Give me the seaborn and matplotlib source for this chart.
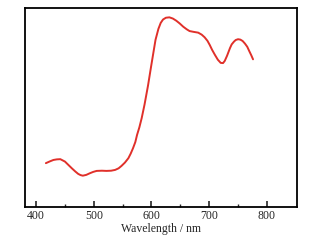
import numpy as np
import pandas as pd
from matplotlib import pyplot as plt
import seaborn as sns

# values (arbitrary intensity units)
wavelength = [417, 424, 430, 436, 442, 450, 456, 462, 468, 473, 477, 481, 487, 493,
              499, 505, 514, 522, 530, 537, 543, 548, 554, 560, 564, 568, 572, 575,
              579, 583, 588, 594, 599, 603, 607, 612, 616, 620, 625, 631, 637, 643,
              649, 655, 661, 666, 673, 681, 687, 692, 697, 701, 705, 710, 715, 720,
              724, 727, 731, 736, 739, 743, 746, 750, 754, 758, 762, 766, 770, 773, 776]
intensity = [22.0, 22.9, 23.6, 23.9, 24.0, 22.8, 21.1, 19.4, 17.8, 16.6, 16.0, 15.7, 16.1, 16.9,
             17.6, 18.1, 18.2, 18.1, 18.2, 18.6, 19.4, 20.6, 22.3, 24.5, 26.8, 29.5, 32.6, 36.2,
             40.0, 44.6, 51.5, 61.0, 70.0, 77.0, 84.0, 89.5, 92.5, 94.2, 95.1, 95.3, 94.7, 93.6,
             92.2, 90.6, 89.3, 88.4, 88.0, 87.6, 86.6, 85.3, 83.5, 81.4, 79.0, 76.4, 74.0, 72.4,
             72.3, 73.4, 76.0, 79.8, 81.7, 83.1, 83.9, 84.3, 84.1, 83.4, 82.1, 80.5, 78.0, 76.2, 74.2]

df = pd.DataFrame({'wl': wavelength, 'I': intensity})

sns.set_theme(style='white')
plt.rcParams['font.family'] = ['Liberation Serif', 'DejaVu Serif']

fig = plt.figure(figsize=(3.22, 2.42), dpi=100)
ax = fig.add_axes([0.078, 0.145, 0.844, 0.822])
sns.lineplot(data=df, x='wl', y='I', color='#e0302a', linewidth=1.4, ax=ax)

ax.set_xlim(381, 852)
ax.set_ylim(0, 100)
ax.set_xticks([400, 500, 600, 700, 800])
ax.set_xticks([450, 550, 650, 750], minor=True)
ax.set_yticks([])
ax.tick_params(axis='x', which='major', direction='in', length=4, width=1.2,
               labelsize=8.5, pad=2, bottom=True)
ax.tick_params(axis='x', which='minor', direction='in', length=2, width=1.0, bottom=True)
ax.set_xlabel('Wavelength / nm', fontsize=8.5, labelpad=1)
ax.set_ylabel('')
for s in ax.spines.values():
    s.set_linewidth(1.3)
    s.set_color('black')

fig.savefig('out.png', dpi=100)
